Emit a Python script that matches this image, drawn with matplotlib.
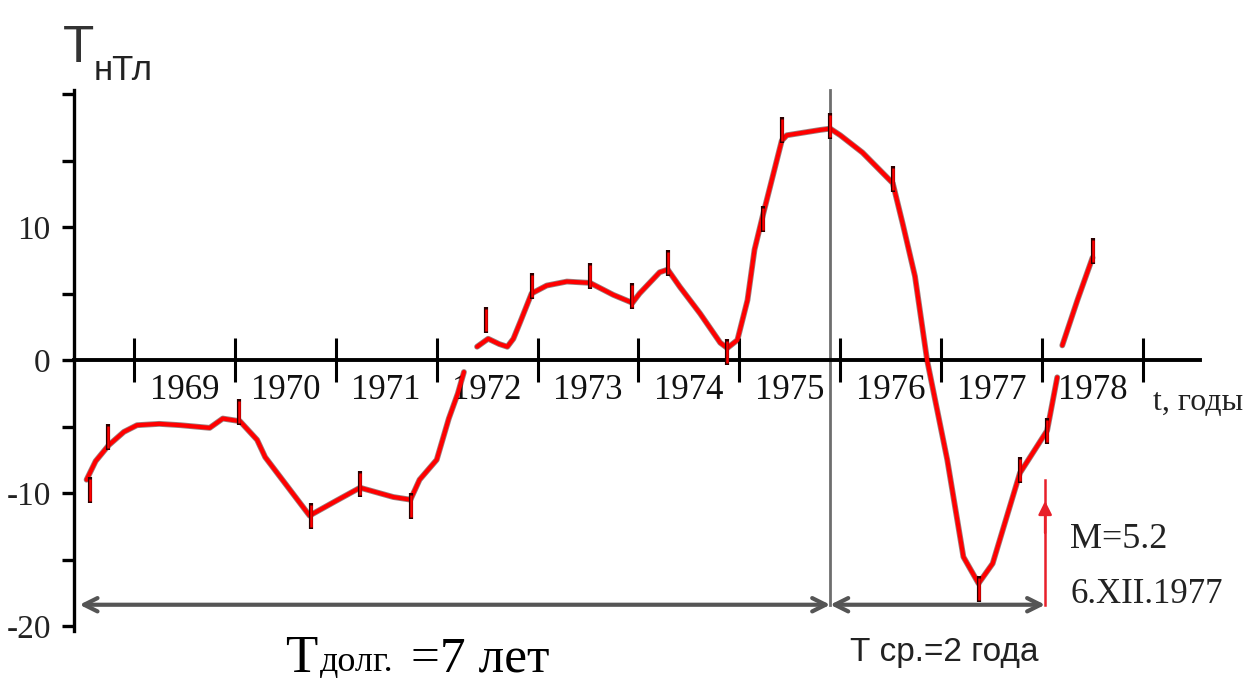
import matplotlib
matplotlib.use("Agg")
import matplotlib.pyplot as plt
from matplotlib import font_manager as fm
from matplotlib.ticker import FixedLocator, FixedFormatter, NullFormatter

# ---------------- data ----------------
year_ticks = [1969, 1970, 1971, 1972, 1973, 1974, 1975, 1976, 1977, 1978, 1979]
year_label_pos = [1969.5, 1970.5, 1971.5, 1972.5, 1973.5, 1974.5, 1975.5, 1976.5, 1977.5, 1978.5]
year_labels = ["1969", "1970", "1971", "1972", "1973", "1974", "1975", "1976", "1977", "1978"]

y_major = [-20, -10, 0, 10, 20]
y_major_labels = ["-20", "-10", "0", "10", ""]
y_minor = [-15, -5, 5, 15]

seg1_t = [1968.53, 1968.62, 1968.75, 1968.90, 1969.03, 1969.25, 1969.46, 1969.75, 1969.88,
          1970.05, 1970.22, 1970.30, 1970.50, 1970.74, 1971.00, 1971.24, 1971.57, 1971.74,
          1971.83, 1972.00, 1972.12, 1972.21, 1972.27]
seg1_v = [-9.0, -7.6, -6.4, -5.4, -4.9, -4.8, -4.9, -5.1, -4.4,
          -4.6, -6.0, -7.3, -9.3, -11.7, -10.6, -9.6, -10.3, -10.5,
          -9.0, -7.5, -4.4, -2.5, -0.9]

seg2_t = [1972.40, 1972.51, 1972.62, 1972.70, 1972.76, 1972.83, 1972.94, 1973.09, 1973.29,
          1973.52, 1973.75, 1973.94, 1974.01, 1974.21, 1974.29, 1974.41, 1974.61, 1974.81,
          1974.88, 1974.98, 1975.08, 1975.15, 1975.23, 1975.42, 1975.47, 1975.80, 1975.90,
          1976.00, 1976.22, 1976.52, 1976.62, 1976.74, 1976.86, 1977.06, 1977.22, 1977.37,
          1977.51, 1977.78, 1978.05, 1978.15]
seg2_v = [1.0, 1.6, 1.2, 1.0, 1.6, 2.9, 5.0, 5.6, 5.9,
          5.8, 4.9, 4.3, 5.0, 6.6, 6.8, 5.5, 3.5, 1.3,
          0.9, 1.5, 4.5, 8.3, 10.8, 16.5, 16.9, 17.3, 17.4,
          16.9, 15.6, 13.3, 10.2, 6.3, 0.0, -7.5, -14.8, -16.8,
          -15.3, -8.5, -5.3, -1.3]

seg3_t = [1978.20, 1978.35, 1978.50]
seg3_v = [1.1, 4.5, 7.7]

mark_t = [1968.56, 1968.74, 1970.04, 1970.75, 1971.24, 1971.75, 1972.49, 1972.94, 1973.52,
          1973.94, 1974.29, 1974.88, 1975.23, 1975.42, 1975.90, 1976.52, 1977.37, 1977.78,
          1978.05, 1978.50]
mark_v = [-9.8, -5.8, -3.9, -11.7, -9.3, -11.0, 3.0, 5.6, 6.3,
          4.8, 7.3, 0.6, 10.6, 17.3, 17.6, 13.6, -17.2, -8.3,
          -5.3, 8.2]

t_axis_start = 1968.41
t_axis_end = 1979.56
t_long_start = 1968.46
t_split = 1975.90
t_end = 1978.03
arrow_v = -18.4
m_arrow_top = -9.0

# ---------------- fonts ----------------
def has_font(name):
    try:
        fm.findfont(fm.FontProperties(family=name), fallback_to_default=False)
        return True
    except Exception:
        return False

SERIF = ["Liberation Serif", "DejaVu Serif"]
if has_font("Liberation Sans Narrow"):
    SANS = ["Liberation Sans Narrow", "Liberation Sans", "DejaVu Sans"]
    sk = 1.18
else:
    SANS = ["Liberation Sans", "DejaVu Sans"]
    sk = 1.0

plt.rcParams["font.family"] = SERIF

# ---------------- figure ----------------
fig = plt.figure(figsize=(12.55, 6.88), dpi=100)
ax = fig.add_axes([0, 0, 1, 1])
ax.set_xlim(1967.672, 1980.110)
ax.set_ylim(-24.66, 27.07)
ax.set_facecolor("white")

for s in ("top", "right"):
    ax.spines[s].set_visible(False)
ax.spines["left"].set_position(("data", t_axis_start))
ax.spines["left"].set_bounds(-20.4, 20.3)
ax.spines["left"].set_linewidth(2.4)
ax.spines["bottom"].set_position(("data", 0))
ax.spines["bottom"].set_bounds(t_axis_start, t_axis_end)
ax.spines["bottom"].set_linewidth(2.8)

ax.yaxis.set_major_locator(FixedLocator(y_major))
ax.yaxis.set_major_formatter(FixedFormatter(y_major_labels))
ax.yaxis.set_minor_locator(FixedLocator(y_minor))
ax.tick_params(axis="y", which="both", direction="out", length=9, width=2.4,
               labelsize=24, pad=8, labelcolor="#222222")

ax.xaxis.set_major_locator(FixedLocator(year_ticks))
ax.xaxis.set_major_formatter(NullFormatter())
ax.xaxis.set_minor_locator(FixedLocator(year_label_pos))
ax.xaxis.set_minor_formatter(FixedFormatter(year_labels))
ax.tick_params(axis="x", which="major", direction="inout", length=32, width=2.2)
ax.tick_params(axis="x", which="minor", length=0, labelsize=25, pad=10,
               labelcolor="#111111")

# vertical split line
ax.plot([t_split, t_split], [arrow_v, 20.3], color="#6e6e6e", lw=2.0, zorder=2)

# period arrows
arrow_kw = dict(arrowstyle="<->", color="#555555", lw=3.0, shrinkA=0, shrinkB=0,
                mutation_scale=24)
ax.annotate("", xy=(t_split, arrow_v), xytext=(t_long_start, arrow_v),
            arrowprops=arrow_kw, zorder=3)
ax.annotate("", xy=(t_end, arrow_v), xytext=(t_split, arrow_v),
            arrowprops=arrow_kw, zorder=3)

# red magnitude arrow
ax.plot([t_end, t_end], [arrow_v, m_arrow_top], color="#e8202a", lw=1.8, zorder=3)
ax.annotate("", xy=(t_end, -10.6), xytext=(t_end, -13.0),
            arrowprops=dict(arrowstyle="-|>", color="#e8202a", lw=1.8,
                            mutation_scale=20, shrinkA=0, shrinkB=0), zorder=3)

# curve
for tt, vv in ((seg1_t, seg1_v), (seg2_t, seg2_v), (seg3_t, seg3_v)):
    ax.plot(tt, vv, color="#3a0000", lw=4.2, alpha=0.5, zorder=4,
            solid_capstyle="round", solid_joinstyle="round")
    ax.plot(tt, vv, color="#ff0000", lw=3.0, zorder=5,
            solid_capstyle="round", solid_joinstyle="round")
ax.plot(mark_t, mark_v, linestyle="none", marker="|", markersize=19,
        markeredgewidth=3.0, color="#2a0000", zorder=6)
ax.plot(mark_t, mark_v, linestyle="none", marker="|", markersize=16,
        markeredgewidth=1.8, color="#ff0000", zorder=7)

# ---------------- texts ----------------
ax.text(1968.296, 22.41, "Т", family=SANS, fontsize=37 * sk, ha="left", va="baseline",
        color="#333333")
ax.text(1968.604, 21.05, "нТл", family=SANS, fontsize=25 * sk, ha="left", va="baseline",
        color="#222222")

ax.text(1979.099, -3.76, "t, годы", family=SERIF, fontsize=23, ha="left", va="baseline",
        color="#222222")

ax.text(1970.497, -23.45, "Т", family=SERIF, fontsize=38, ha="left", va="baseline")
ax.text(1970.843, -23.35, "долг.", family=SERIF, fontsize=26, ha="left", va="baseline")
ax.text(1971.745, -23.45, "=7 лет", family=SERIF, fontsize=37, ha="left", va="baseline")

ax.text(1976.096, -22.6, "Т ср.=2 года", family=SANS, fontsize=24 * sk, ha="left",
        va="baseline", color="#222222")

ax.text(1978.277, -14.14, "M=5.2", family=SERIF, fontsize=26, ha="left", va="baseline",
        color="#222222")
ax.text(1978.277, -18.27, "6.XII.1977", family=SERIF, fontsize=25, ha="left",
        va="baseline", color="#222222")

fig.savefig("out.png", dpi=100, facecolor="white")
